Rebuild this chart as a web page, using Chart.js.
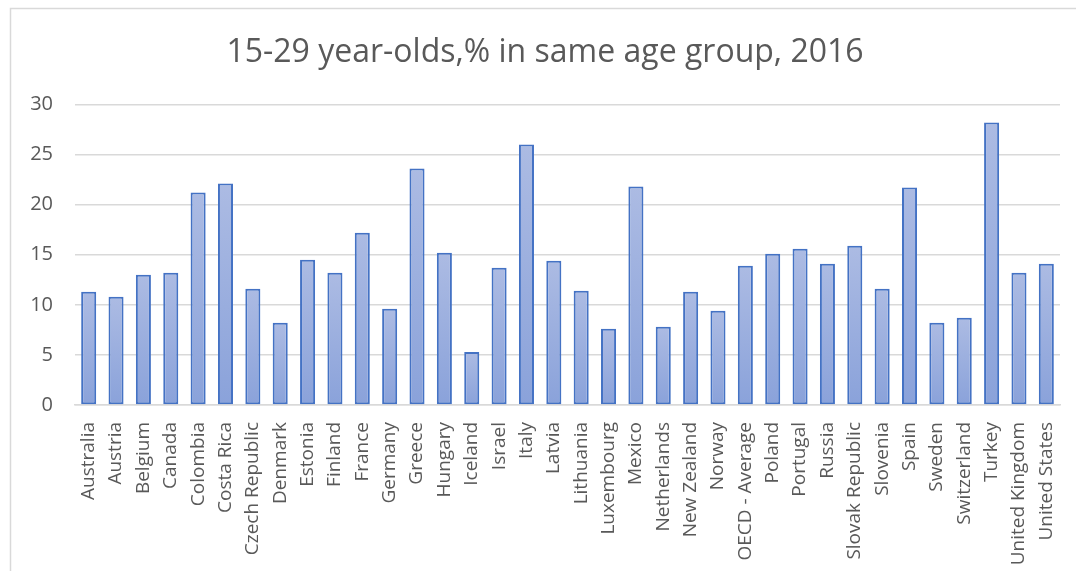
<!DOCTYPE html>
<html>
<head>
<meta charset="utf-8">
<script src="https://cdn.jsdelivr.net/npm/chart.js@4/dist/chart.umd.min.js"></script>
<style>
  html, body { margin: 0; padding: 0; background: #ffffff; }
  #wrap { position: relative; width: 1076px; height: 571px; }
</style>
</head>
<body>
<div id="wrap"><canvas id="chart" width="1076" height="571"></canvas></div>
<script>
// Share of 15-29 year-olds (% of same age group), 2016
const countries = [
  "Australia", "Austria", "Belgium", "Canada", "Colombia", "Costa Rica",
  "Czech Republic", "Denmark", "Estonia", "Finland", "France", "Germany",
  "Greece", "Hungary", "Iceland", "Israel", "Italy", "Latvia", "Lithuania",
  "Luxembourg", "Mexico", "Netherlands", "New Zealand", "Norway",
  "OECD - Average", "Poland", "Portugal", "Russia", "Slovak Republic",
  "Slovenia", "Spain", "Sweden", "Switzerland", "Turkey", "United Kingdom",
  "United States"
];
const shares = [
  11.3, 10.8, 13.0, 13.2, 21.2, 22.1,
  11.6, 8.2, 14.5, 13.2, 17.2, 9.6,
  23.6, 15.2, 5.3, 13.7, 26.0, 14.4, 11.4,
  7.6, 21.8, 7.8, 11.3, 9.4,
  13.9, 15.1, 15.6, 14.1, 15.9,
  11.6, 21.7, 8.2, 8.7, 28.2, 13.2,
  14.1
];
const yTicks = [0, 5, 10, 15, 20, 25, 30];
const chartTitle = "15-29 year-olds,% in same age group, 2016";

const FONT = "'Open Sans', 'Noto Sans', sans-serif";
const GREY_TEXT = "#595959";
const GRID = "#d9d9d9";

// Per-bar vertical gradient: lighter at the top of each bar, deeper at the base
function barFill(ctx) {
  const chart = ctx.chart;
  const area = chart.chartArea;
  if (!area || ctx.type !== "data") return "#9aaedd";
  const y = chart.scales.y;
  const top = y.getPixelForValue(ctx.raw);
  const base = y.getPixelForValue(0);
  if (!isFinite(top) || !isFinite(base) || top === base) return "#9aaedd";
  const g = chart.ctx.createLinearGradient(0, top, 0, base);
  g.addColorStop(0, "#acbbe3");
  g.addColorStop(1, "#8aa2da");
  return g;
}

// Light outer frame around the chart
const framePlugin = {
  id: "frame",
  beforeDraw(chart) {
    const c = chart.ctx;
    c.save();
    c.fillStyle = "#ffffff";
    c.fillRect(0, 0, chart.width, chart.height);
    c.strokeStyle = "#d9d9d9";
    c.lineWidth = 1.5;
    c.beginPath();
    c.moveTo(10.5, chart.height + 2);
    c.lineTo(10.5, 8.5);
    c.lineTo(chart.width + 2, 8.5);
    c.stroke();
    c.restore();
  }
};

// Nudge the title block a little to the right of the canvas centre
const titleShift = {
  id: "titleShift",
  afterLayout(chart) {
    const tb = chart.titleBlock;
    if (tb) { tb.left += 10; tb.right += 10; }
  }
};

new Chart(document.getElementById("chart"), {
  type: "bar",
  data: {
    labels: countries,
    datasets: [{
      data: shares,
      backgroundColor: barFill,
      borderColor: "#4472c4",
      borderWidth: 2,
      borderSkipped: false,
      barPercentage: 0.55,
      categoryPercentage: 1.0
    }]
  },
  plugins: [framePlugin, titleShift],
  options: {
    responsive: false,
    animation: false,
    devicePixelRatio: 1,
    layout: { padding: { left: 10, right: 16, top: 28, bottom: 0 } },
    plugins: {
      legend: { display: false },
      tooltip: { enabled: false },
      title: {
        display: true,
        text: chartTitle,
        color: GREY_TEXT,
        font: { family: FONT, size: 32, weight: "normal" },
        padding: { top: 6, bottom: 32 }
      }
    },
    scales: {
      x: {
        grid: { display: false, drawTicks: false },
        border: { display: true, color: GRID, width: 1.5 },
        ticks: {
          autoSkip: false,
          maxRotation: 90,
          minRotation: 90,
          color: GREY_TEXT,
          padding: 17,
          font: { family: FONT, size: 19 }
        },
        afterFit(scale) {
          scale.height = 166;
          scale.paddingLeft = 0;
          scale.paddingRight = 0;
        }
      },
      y: {
        min: 0,
        max: 30,
        afterBuildTicks(scale) { scale.ticks = yTicks.map(v => ({ value: v })); },
        grid: { color: GRID, lineWidth: 1.5, drawTicks: false },
        border: { display: false },
        ticks: {
          color: GREY_TEXT,
          padding: 22,
          font: { family: FONT, size: 20 }
        },
        afterFit(scale) { scale.width = 65; }
      }
    }
  }
});
</script>
</body>
</html>
